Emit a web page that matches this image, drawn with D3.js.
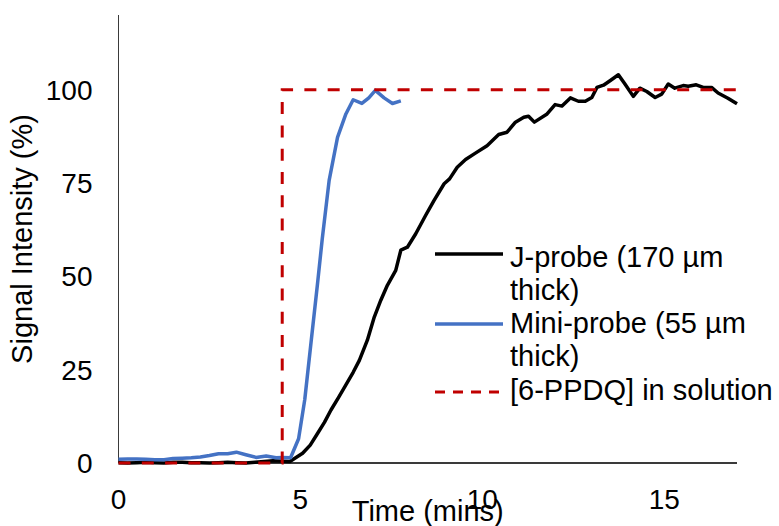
<!DOCTYPE html>
<meta charset="utf-8">
<style>
body {
  margin: 0;
  background-color: #ffffff;
}
text {
  font-family: "Liberation Sans", Arial, sans-serif;
  font-size: 29px;
  fill: #000000;
}
.y-label, .x-label {
  font-size: 28px;
}
.axis-line {
  stroke: #3a3a3a;
  stroke-width: 1.5px;
  shape-rendering: crispEdges;
}
.line {
  fill: none;
  stroke-width: 3.5px;
  stroke-linejoin: round;
}
</style>
<body>
<svg width="779" height="526"></svg>
</body>

<script src="https://d3js.org/d3.v7.min.js"></script>

<script>

// J-probe (170 um thick)
var jTime = [0, 0.25, 0.5, 0.75, 1, 1.25, 1.5, 1.75, 2, 2.25, 2.5, 2.75, 3, 3.25, 3.5, 3.75, 4, 4.25, 4.5, 4.71,
  5.06, 5.27, 5.47, 5.66, 5.84, 6.05, 6.25, 6.45, 6.62, 6.84, 7.03, 7.21, 7.39, 7.62, 7.76, 7.94, 8.17, 8.44, 8.67,
  8.95, 9.1, 9.31, 9.54, 9.81, 10.13, 10.3, 10.45, 10.68, 10.91, 11.14, 11.27, 11.43, 11.78, 12.0, 12.19, 12.42,
  12.64, 12.83, 13.01, 13.15, 13.33, 13.51, 13.74, 13.92, 14.15, 14.33, 14.52, 14.75, 14.93, 15.11, 15.29, 15.52,
  15.66, 15.88, 16.07, 16.3, 16.48, 16.75, 17.0];
var jSignal = [0.1, 0.0, 0.1, 0.2, 0.1, 0.0, 0.2, 0.2, 0.1, 0.1, 0.0, 0.1, 0.2, 0.1, 0.0, 0.2, 0.4, 0.6, 0.5, 0.4,
  2.6, 4.8, 7.9, 10.9, 14.2, 17.6, 20.9, 24.3, 27.5, 32.9, 39.1, 43.6, 47.6, 51.6, 57.0, 57.8, 61.4, 66.3, 70.3,
  74.8, 76.1, 79.2, 81.3, 83.0, 85.0, 86.6, 88.0, 88.6, 91.3, 92.6, 92.9, 91.3, 93.5, 96.0, 95.6, 97.8,
  96.9, 96.9, 97.9, 100.6, 101.2, 102.4, 104.0, 101.5, 98.2, 100.4, 99.5, 97.9, 98.8, 101.5, 100.4, 101.1,
  100.9, 101.3, 100.6, 100.6, 99.1, 97.7, 96.2];

// Mini-probe (55 um thick)
var miniTime = [0, 0.25, 0.5, 0.75, 1, 1.25, 1.5, 1.75, 2, 2.25, 2.5, 2.75, 3, 3.24, 3.5, 3.78, 4.06, 4.33, 4.5, 4.73,
  4.95, 5.12, 5.3, 5.47, 5.6, 5.79, 6.02, 6.25, 6.45, 6.69, 6.88, 7.06, 7.3, 7.53, 7.76];
var miniSignal = [1.0, 1.1, 1.1, 1.0, 0.9, 0.9, 1.2, 1.3, 1.4, 1.6, 2.0, 2.5, 2.5, 2.9, 2.2, 1.5, 1.9, 1.4, 1.5, 1.4,
  6.5, 17.0, 33.0, 48.0, 60.0, 75.7, 87.2, 93.5, 97.3, 96.3, 97.8, 99.8, 97.8, 96.3, 97.0];

// [6-PPDQ] in solution
var stepTime = [0, 4.5, 4.5, 17];
var stepSignal = [0, 0, 100, 100];

var xTicks = [0, 5, 10, 15];
var yTicks = [0, 25, 50, 75, 100];

var seriesColors = ["#000000", "#4472C4", "#C00000"];

var plot = {left: 118.5, right: 737, top: 15, bottom: 463};

var svg = d3.select("svg");

var x = d3.scaleLinear().domain([0, 17]).range([plot.left, plot.right]);
var y = d3.scaleLinear().domain([0, 120]).range([plot.bottom, plot.top]);

function toPoints(ts, vs) {
  return ts.map(function(t, i) { return {t: t, v: vs[i]}; });
}

var line = d3.line()
  .x(function(d) { return x(d.t); })
  .y(function(d) { return y(d.v); });

// axes (plain lines, no tick marks)
svg.append("line")
  .attr("class", "axis-line")
  .attr("x1", x(0)).attr("x2", x(0))
  .attr("y1", y(120)).attr("y2", y(0));

svg.append("line")
  .attr("class", "axis-line")
  .attr("x1", x(0)).attr("x2", x(17))
  .attr("y1", y(0)).attr("y2", y(0));

svg.selectAll(".y-label").data(yTicks)
  .enter().append("text")
  .attr("class", "y-label")
  .attr("x", x(0) - 26)
  .attr("y", function(d) { return y(d); })
  .attr("dy", "0.36em")
  .style("text-anchor", "end")
  .text(function(d) { return d; });

svg.selectAll(".x-label").data(xTicks)
  .enter().append("text")
  .attr("class", "x-label")
  .attr("x", function(d) { return x(d); })
  .attr("y", 509)
  .style("text-anchor", "middle")
  .text(function(d) { return d; });

svg.append("text")
  .attr("x", (plot.left + plot.right) / 2)
  .attr("y", 521)
  .style("text-anchor", "middle")
  .text("Time (mins)");

svg.append("text")
  .attr("transform", "translate(32," + ((plot.top + plot.bottom) / 2) + ")rotate(-90)")
  .style("text-anchor", "middle")
  .text("Signal Intensity (%)");

// series
svg.append("path")
  .datum(toPoints(jTime, jSignal))
  .attr("class", "line")
  .attr("stroke", seriesColors[0])
  .attr("d", line);

svg.append("path")
  .datum(toPoints(miniTime, miniSignal))
  .attr("class", "line")
  .attr("stroke", seriesColors[1])
  .attr("d", line);

svg.append("path")
  .datum(toPoints(stepTime, stepSignal))
  .attr("class", "line")
  .attr("stroke", seriesColors[2])
  .style("stroke-width", "3px")
  .style("stroke-linejoin", "miter")
  .attr("stroke-dasharray", "12,11.3")
  .attr("d", line);

// legend
var legendRows = [
  {lines: ["J-probe (170 \u00b5m", "thick)"], sy: 254},
  {lines: ["Mini-probe (55 \u00b5m", "thick)"], sy: 324},
  {lines: ["[6-PPDQ] in solution"], sy: 392}
];
var baselines = [267, 333, 400];

var legend = svg.append("g").attr("class", "legend");

legendRows.forEach(function(row, i) {
  var l = legend.append("line")
    .attr("x1", 435).attr("x2", 503)
    .attr("y1", row.sy).attr("y2", row.sy)
    .attr("stroke", seriesColors[i])
    .attr("stroke-width", i == 2 ? 3 : 3.5);
  if (i == 2) l.attr("stroke-dasharray", "10,8");

  row.lines.forEach(function(txt, j) {
    legend.append("text")
      .attr("x", 510)
      .attr("y", baselines[i] + j * 33.3)
      .text(txt);
  });
});

</script>
